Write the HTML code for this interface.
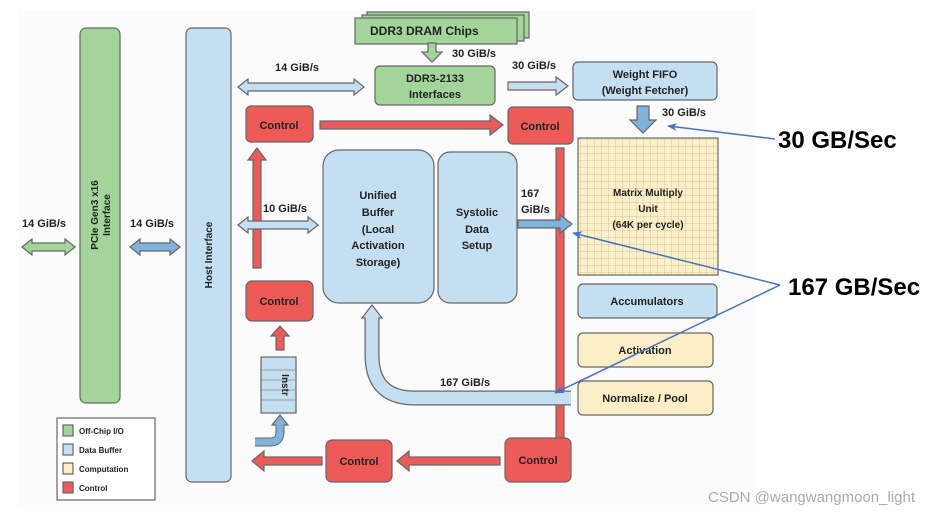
<!DOCTYPE html>
<html><head><meta charset="utf-8"><style>
html,body{margin:0;padding:0;background:#fff;}
svg{display:block;}
text{font-family:"Liberation Sans",sans-serif;font-weight:bold;fill:#222;}
</style></head><body>
<svg width="929" height="515" viewBox="0 0 929 515" xmlns="http://www.w3.org/2000/svg">
<defs>
<pattern id="g" width="7" height="7" patternUnits="userSpaceOnUse">
<rect width="7" height="7" fill="#fcf0c8"/>
<path d="M7 0V7M0 7H7" stroke="#c9b98e" stroke-width="0.8"/>
</pattern>
<marker id="ah" markerWidth="10" markerHeight="8" refX="9" refY="4" orient="auto" markerUnits="userSpaceOnUse">
<path d="M0,0 L10,4 L0,8 L3,4 Z" fill="#4472c4"/>
</marker>
</defs>
<rect x="18" y="10" width="735" height="497" fill="#fbfbfb"/>
<g stroke="#666" stroke-width="1.2">
<rect x="80" y="28" width="40" height="375" rx="6" fill="#a3d49a"/>
<rect x="186" y="28" width="45" height="454" rx="6" fill="#c5dff2"/>
<polygon points="22,247 32,239 32,243 65,243 65,239 75,247 65,255 65,251 32,251 32,255" fill="#a3d49a"/>
<polygon points="130,247 140,239 140,243 170,243 170,239 180,247 170,255 170,251 140,251 140,255" fill="#7fb3dc"/>
<rect x="367" y="12" width="162" height="26" fill="#a3d49a"/>
<rect x="362" y="15" width="162" height="26" fill="#a3d49a"/>
<rect x="355" y="18" width="162" height="26" fill="#a3d49a"/>
<polygon points="428,43 436,43 436,52 442,52 432,62 422,52 428,52" fill="#a3d49a"/>
<rect x="375" y="66" width="120" height="39" rx="5" fill="#a3d49a"/>
<polygon points="238,87 248,79 248,83 354,83 354,79 364,87 354,95 354,91 248,91 248,95" fill="#c5dff2"/>
<polygon points="508,82 556,82 556,77 568,86 556,95 556,90 508,90" fill="#c5dff2"/>
<rect x="573" y="62" width="144" height="38" rx="5" fill="#c5dff2"/>
<polygon points="637,106 649,106 649,120 656,120 643,133 630,120 637,120" fill="#7fb3dc"/>
<rect x="246" y="106" width="67" height="36" rx="5" fill="#ee5a57"/>
<polygon points="320,121 490,121 490,115 503,125 490,135 490,129 320,129" fill="#ee5a57"/>
<rect x="508" y="107" width="65" height="37" rx="5" fill="#ee5a57"/>
<rect x="556" y="148" width="8" height="292" fill="#ee5a57"/>
<polygon points="253,268 253,160 248,160 257,148 266,160 261,160 261,268" fill="#ee5a57"/>
<polygon points="238,225 248,217 248,221 308,221 308,217 318,225 308,233 308,229 248,229 248,233" fill="#c5dff2"/>
<rect x="323" y="150" width="111" height="153" rx="16" fill="#c5dff2"/>
<rect x="438" y="152" width="79" height="151" rx="12" fill="#c5dff2"/>
<polygon points="518,220 560,220 560,215 572,224 560,233 560,228 518,228" fill="#7fb3dc"/>
<rect x="578" y="138" width="140" height="137" fill="url(#g)"/>
<rect x="578" y="284" width="139" height="34" rx="5" fill="#c5dff2"/>
<rect x="578" y="333" width="135" height="34" rx="5" fill="#fcefc7"/>
<rect x="578" y="381" width="135" height="34" rx="5" fill="#fcefc7"/>
<rect x="246" y="281" width="67" height="40" rx="6" fill="#ee5a57"/>
<polygon points="276,350 276,336 271,336 280,326 289,336 284,336 284,350" fill="#ee5a57"/>
<rect x="261" y="357" width="35" height="56" fill="#c5dff2"/>
<rect x="326" y="440" width="66" height="42" rx="6" fill="#ee5a57"/>
<rect x="505" y="438" width="66" height="44" rx="6" fill="#ee5a57"/>
<polygon points="500,457 409,457 409,451 397,461 409,471 409,465 500,465" fill="#ee5a57"/>
<polygon points="322,457 264,457 264,451 252,461 264,471 264,465 322,465" fill="#ee5a57"/>
<polygon points="362,318 382,318 372,305" fill="#c5dff2"/>
<polygon points="272,425 288,425 280,415" fill="#7fb3dc"/>
<rect x="57" y="418" width="98" height="82" fill="#fff"/>
<rect x="63" y="425" width="10" height="11" fill="#a3d49a"/>
<rect x="63" y="444" width="10" height="11" fill="#c5dff2"/>
<rect x="63" y="463" width="10" height="11" fill="#fcefc7"/>
<rect x="63" y="482" width="10" height="11" fill="#ee5a57"/>
</g>
<g stroke="#888" stroke-width="0.8">
<line x1="261" y1="370" x2="296" y2="370"/><line x1="261" y1="380" x2="296" y2="380"/>
<line x1="261" y1="390" x2="296" y2="390"/><line x1="261" y1="400" x2="296" y2="400"/>
</g>
<path d="M571,398 H415 Q372,398 372,355 V318" fill="none" stroke="#666" stroke-width="15"/>
<path d="M571,398 H415 Q372,398 372,355 V317" fill="none" stroke="#c5dff2" stroke-width="12.5"/>
<path d="M255,442 H270 Q280,442 280,432 V425" fill="none" stroke="#666" stroke-width="9"/>
<path d="M255,442 H270 Q280,442 280,432 V424" fill="none" stroke="#7fb3dc" stroke-width="7"/>
<g font-size="11">
<text x="22" y="227">14 GiB/s</text>
<text x="130" y="227">14 GiB/s</text>
<text x="275" y="71">14 GiB/s</text>
<text x="370" y="35" font-size="12">DDR3 DRAM Chips</text>
<text x="452" y="57">30 GiB/s</text>
<text x="435" y="82" text-anchor="middle">DDR3-2133</text>
<text x="435" y="98" text-anchor="middle">Interfaces</text>
<text x="512" y="69">30 GiB/s</text>
<text x="645" y="78" text-anchor="middle">Weight FIFO</text>
<text x="645" y="94" text-anchor="middle">(Weight Fetcher)</text>
<text x="662" y="116">30 GiB/s</text>
<text x="279" y="129" text-anchor="middle">Control</text>
<text x="540" y="130" text-anchor="middle">Control</text>
<text x="263" y="212">10 GiB/s</text>
<text x="378" y="199" text-anchor="middle">Unified</text>
<text x="378" y="216" text-anchor="middle">Buffer</text>
<text x="378" y="233" text-anchor="middle">(Local</text>
<text x="378" y="249" text-anchor="middle">Activation</text>
<text x="378" y="266" text-anchor="middle">Storage)</text>
<text x="477" y="216" text-anchor="middle">Systolic</text>
<text x="477" y="233" text-anchor="middle">Data</text>
<text x="477" y="249" text-anchor="middle">Setup</text>
<text x="521" y="197">167</text>
<text x="521" y="213">GiB/s</text>
<text x="648" y="196" text-anchor="middle" font-size="10">Matrix Multiply</text>
<text x="648" y="212" text-anchor="middle" font-size="10">Unit</text>
<text x="648" y="228" text-anchor="middle" font-size="10">(64K per cycle)</text>
<text x="647" y="305" text-anchor="middle">Accumulators</text>
<text x="645" y="354" text-anchor="middle">Activation</text>
<text x="645" y="402" text-anchor="middle">Normalize / Pool</text>
<text x="279" y="305" text-anchor="middle">Control</text>
<text x="359" y="465" text-anchor="middle">Control</text>
<text x="538" y="464" text-anchor="middle">Control</text>
<text x="440" y="386">167 GiB/s</text>
<text transform="translate(212,255) rotate(-90)" text-anchor="middle" font-size="10">Host Interface</text>
<text transform="translate(98,215) rotate(-90)" text-anchor="middle" font-size="10">PCIe Gen3 x16</text>
<text transform="translate(110,215) rotate(-90)" text-anchor="middle" font-size="10">Interface</text>
<text transform="translate(282,385) rotate(90)" text-anchor="middle" font-size="10">Instr</text>
</g>
<g font-size="8" font-weight="normal">
<text x="79" y="434">Off-Chip I/O</text>
<text x="79" y="453">Data Buffer</text>
<text x="79" y="472">Computation</text>
<text x="79" y="491">Control</text>
</g>
<g stroke="#4472c4" stroke-width="1.5" fill="none">
<line x1="775" y1="139" x2="668" y2="126" marker-end="url(#ah)"/>
<line x1="780" y1="285" x2="573" y2="233" marker-end="url(#ah)"/>
<line x1="780" y1="285" x2="555" y2="393" marker-end="url(#ah)"/>
</g>
<text x="778" y="148" font-size="24" style="fill:#000">30 GB/Sec</text>
<text x="788" y="295" font-size="24" style="fill:#000">167 GB/Sec</text>
<text x="915" y="502" text-anchor="end" font-size="15" style="font-weight:normal;fill:#aaa">CSDN @wangwangmoon_light</text>
</svg>
</body></html>
